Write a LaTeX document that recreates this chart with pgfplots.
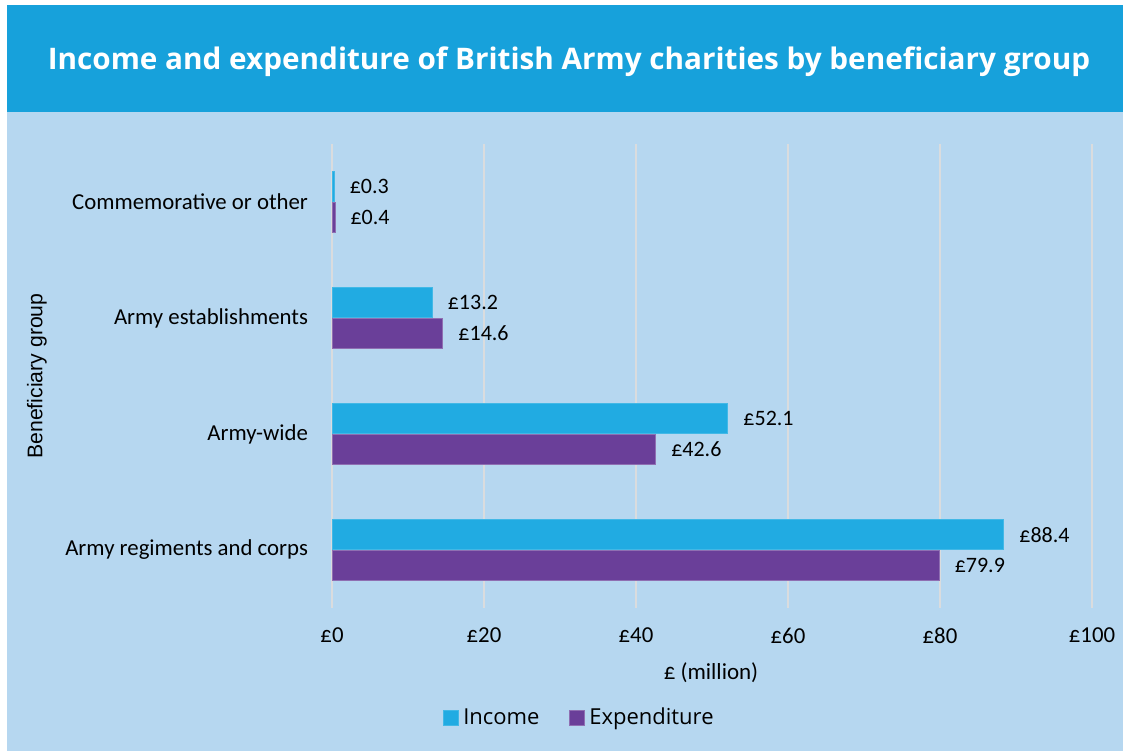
\documentclass[border=0pt]{standalone}
\usepackage{pgfplots}
\pgfplotsset{compat=1.18}
\usepackage{fontspec}
\setmainfont{Carlito}
\newfontfamily\titlefont{Open Sans}
\newfontfamily\legendfont{Open Sans}
\newfontfamily\arialfont{Liberation Sans}

\definecolor{banner}{RGB}{23,161,219}
\definecolor{panel}{RGB}{182,215,240}
\definecolor{income}{RGB}{33,171,226}
\definecolor{expend}{RGB}{106,63,153}
\definecolor{gridgrey}{RGB}{218,220,222}

\begin{document}
\begin{tikzpicture}[x=0.5pt, y=-0.5pt]
% background: picture is laid out in pixels of the 1123x751 reference
\fill[white] (0,0) rectangle (1123,751);
\fill[panel] (7,112) rectangle (1123,751);
\fill[banner] (7,5) rectangle (1123,112);
\node[text=white, font=\titlefont\bfseries\fontsize{14.85}{18}\selectfont] at (569,62)
  {Income and expenditure of British Army charities by beneficiary group};

\begin{axis}[
  at={(166pt,-304pt)}, anchor=south west,
  scale only axis,
  width=380pt, height=232pt,
  xmin=0, xmax=100,
  ymin=-0.5, ymax=3.5,
  xbar,
  bar width=0.259,
  axis line style={draw=none},
  major tick length=0pt,
  xtick={0,20,40,60,80,100},
  xticklabel={£\pgfmathprintnumber[assume math mode=true]{\tick}},
  xticklabel style={anchor=north, yshift=-6.5pt},
  xmajorgrids,
  major grid style={draw=gridgrey, line width=1pt},
  ytick={0,1,2,3},
  yticklabels={Army regiments and corps, Army-wide, Army establishments, Commemorative or other},
  yticklabel style={anchor=east, xshift=-8.5pt},
  tick label style={font=\fontsize{11.4}{13}\selectfont},
  nodes near coords={£\pgfmathprintnumber[fixed, precision=1, fixed zerofill, assume math mode=true]{\pgfplotspointmeta}},
  nodes near coords style={anchor=west, inner sep=0pt, xshift=7.5pt, font=\fontsize{11}{13}\selectfont, text=black},
  point meta=explicit,
  legend style={at={(axis description cs:0.327,-0.237)}, anchor=center,
    draw=none, fill=none, font=\legendfont\fontsize{11}{13}\selectfont,
    /tikz/every even column/.append style={column sep=13pt}},
  legend columns=2,
  legend image code/.code={\fill[#1] (0pt,-3.7pt) rectangle (7.4pt,3.7pt);},
  legend cell align=left,
  clip=false,
]
\addplot[fill=income, draw=income!85!white, line width=0.5pt, bar shift=0.13]
  coordinates {(88.4,0) [88.4] (52.1,1) [52.1] (13.2,2) [13.2] (0.3,3) [0.3]};
\addlegendentry{Income}
\addplot[fill=expend, draw=expend!75!white, line width=0.5pt, bar shift=-0.13]
  coordinates {(79.9,0) [79.9] (42.6,1) [42.6] (14.6,2) [14.6] (0.4,3) [0.4]};
\addlegendentry{Expenditure}
\end{axis}

\node[font=\fontsize{11.5}{13}\selectfont] at (711,673) {£ (million)};
\node[rotate=90, font=\arialfont\fontsize{10.6}{12}\selectfont] at (37,376) {Beneficiary group};
\end{tikzpicture}
\end{document}
